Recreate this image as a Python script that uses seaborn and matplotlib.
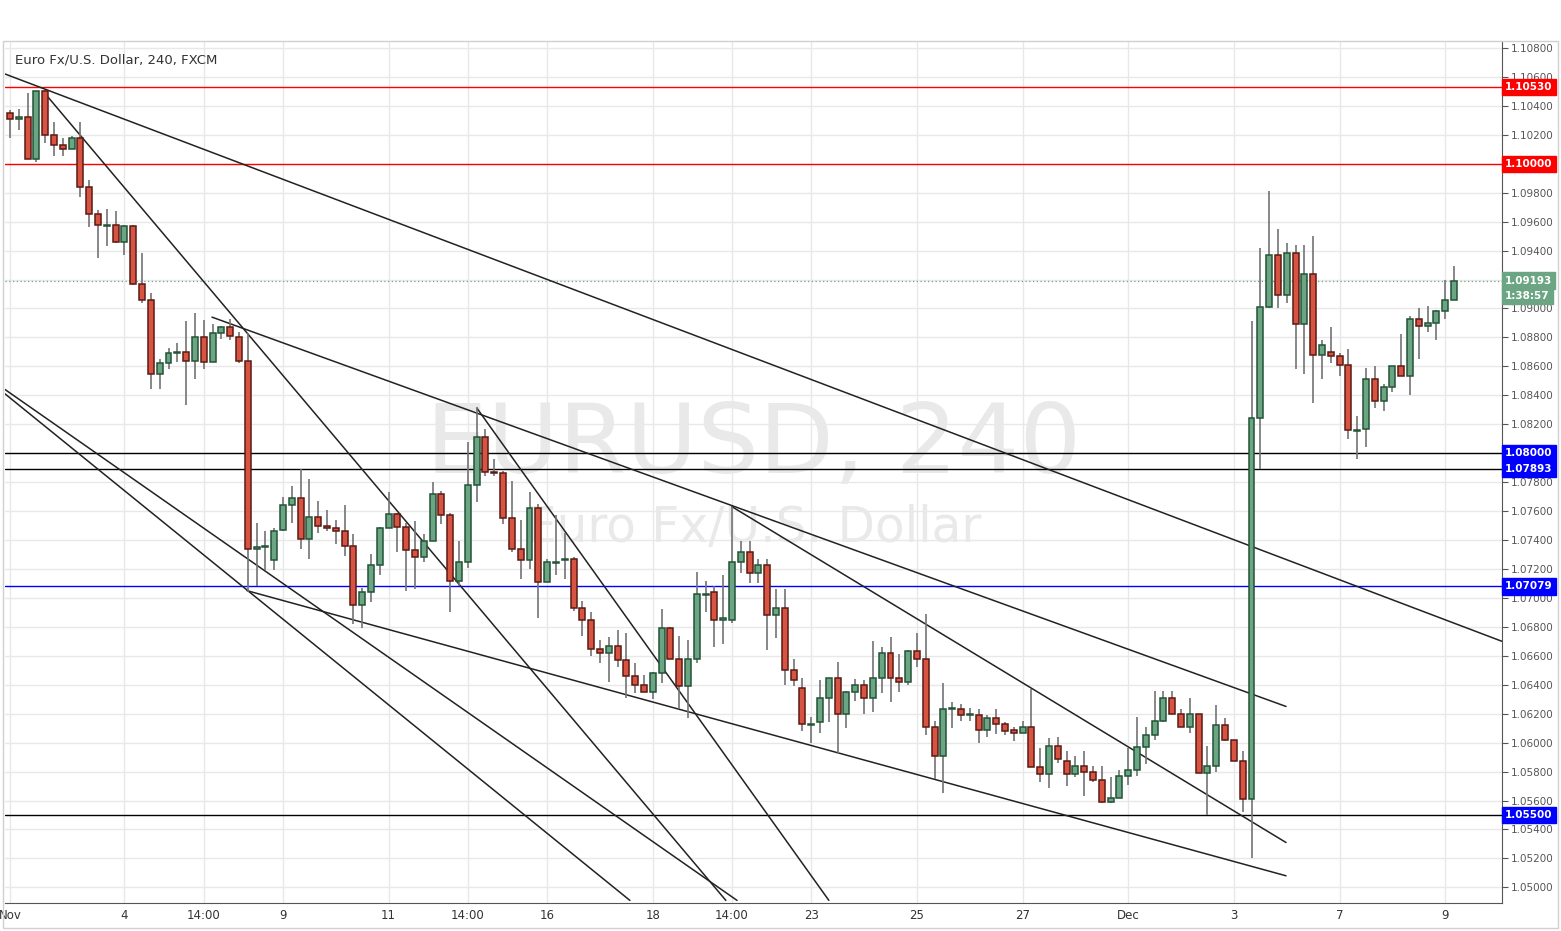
import numpy as np
import pandas as pd
import matplotlib
matplotlib.use("Agg")
import matplotlib.pyplot as plt
import matplotlib.transforms as mtrans
import seaborn as sns

sns.set_style("white")
plt.rcParams['font.family'] = ['DejaVu Sans']

opens = [1.1035,1.1031,1.1032,1.1003,1.1050,1.1020,1.1013,1.1010,1.1018,1.0984,
1.0965,1.0957,1.0958,1.0946,1.0957,1.0917,1.0906,1.0855,1.0862,1.0869,
1.0870,1.0864,1.0880,1.0863,1.0883,1.0887,1.0880,1.0864,1.0734,1.0735,
1.0726,1.0747,1.0764,1.0769,1.0741,1.0756,1.0750,1.0748,1.0746,1.0736,
1.0695,1.0704,1.0723,1.0748,1.0758,1.0749,1.0733,1.0728,1.0739,1.0772,
1.0757,1.0712,1.0725,1.0778,1.0811,1.0787,1.0786,1.0755,1.0734,1.0726,
1.0762,1.0711,1.0724,1.0726,1.0727,1.0693,1.0685,1.0665,1.0662,1.0667,
1.0657,1.0646,1.0640,1.0635,1.0648,1.0679,1.0658,1.0639,1.0658,1.0702,
1.0704,1.0685,1.0685,1.0725,1.0732,1.0717,1.0723,1.0688,1.0693,1.0650,
1.0638,1.0612,1.0614,1.0631,1.0645,1.0620,1.0635,1.0640,1.0631,1.0645,
1.0662,1.0645,1.0642,1.0663,1.0658,1.0611,1.0591,1.0623,1.0623,1.0619,
1.0619,1.0609,1.0617,1.0613,1.0609,1.0607,1.0611,1.0583,1.0578,1.0598,
1.0587,1.0578,1.0584,1.0580,1.0574,1.0559,1.0562,1.0577,1.0581,1.0597,
1.0605,1.0615,1.0631,1.0620,1.0611,1.0620,1.0579,1.0584,1.0612,1.0602,
1.0587,1.0561,1.0824,1.0901,1.0937,1.0909,1.0938,1.0889,1.0924,1.0868,
1.0870,1.0867,1.0861,1.0815,1.0817,1.0851,1.0836,1.0846,1.0860,1.0853,
1.0893,1.0888,1.0890,1.0898,1.0906]
highs = [1.1037,1.1038,1.1049,1.1050,1.1051,1.1029,1.1018,1.1019,1.1029,1.0989,
1.0968,1.0969,1.0967,1.0958,1.0958,1.0938,1.0911,1.0865,1.0873,1.0876,
1.0891,1.0897,1.0892,1.0889,1.0888,1.0893,1.0884,1.0883,1.0752,1.0746,
1.0748,1.0770,1.0777,1.0789,1.0782,1.0767,1.0761,1.0754,1.0764,1.0744,
1.0707,1.0730,1.0749,1.0773,1.0759,1.0752,1.0753,1.0744,1.0780,1.0774,
1.0759,1.0739,1.0808,1.0832,1.0817,1.0796,1.0788,1.0781,1.0754,1.0773,
1.0765,1.0727,1.0757,1.0745,1.0728,1.0698,1.0690,1.0671,1.0673,1.0678,
1.0676,1.0655,1.0647,1.0649,1.0692,1.0680,1.0674,1.0671,1.0718,1.0712,
1.0708,1.0716,1.0763,1.0739,1.0739,1.0727,1.0727,1.0706,1.0706,1.0658,
1.0645,1.0618,1.0643,1.0645,1.0656,1.0636,1.0644,1.0643,1.0670,1.0666,
1.0673,1.0661,1.0664,1.0676,1.0689,1.0615,1.0641,1.0628,1.0627,1.0624,
1.0623,1.0619,1.0623,1.0614,1.0611,1.0615,1.0637,1.0596,1.0603,1.0604,
1.0594,1.0591,1.0594,1.0584,1.0584,1.0576,1.0581,1.0596,1.0618,1.0611,
1.0636,1.0636,1.0636,1.0623,1.0631,1.0620,1.0598,1.0626,1.0617,1.0602,
1.0594,1.0891,1.0942,1.0981,1.0955,1.0945,1.0944,1.0944,1.0950,1.0878,
1.0887,1.0869,1.0872,1.0826,1.0859,1.0860,1.0848,1.0860,1.0882,1.0895,
1.0900,1.0902,1.0899,1.0920,1.0929]
lows = [1.1018,1.1023,1.1003,1.1001,1.1014,1.1005,1.1005,1.1010,1.0977,1.0956,
1.0935,1.0943,1.0945,1.0937,1.0916,1.0904,1.0844,1.0844,1.0858,1.0863,
1.0833,1.0851,1.0858,1.0863,1.0879,1.0878,1.0862,1.0704,1.0708,1.0719,
1.0719,1.0746,1.0752,1.0734,1.0727,1.0745,1.0746,1.0737,1.0729,1.0682,
1.0679,1.0697,1.0716,1.0748,1.0732,1.0705,1.0706,1.0725,1.0739,1.0751,
1.0690,1.0708,1.0721,1.0766,1.0784,1.0784,1.0751,1.0732,1.0713,1.0720,
1.0686,1.0711,1.0716,1.0713,1.0691,1.0674,1.0660,1.0655,1.0642,1.0652,
1.0631,1.0634,1.0635,1.0630,1.0641,1.0658,1.0623,1.0617,1.0655,1.0690,
1.0666,1.0668,1.0683,1.0717,1.0710,1.0710,1.0664,1.0672,1.0640,1.0639,
1.0608,1.0600,1.0607,1.0614,1.0592,1.0610,1.0629,1.0620,1.0621,1.0634,
1.0628,1.0635,1.0640,1.0652,1.0605,1.0575,1.0565,1.0610,1.0615,1.0615,
1.0600,1.0604,1.0606,1.0605,1.0601,1.0607,1.0583,1.0573,1.0569,1.0586,
1.0570,1.0576,1.0563,1.0573,1.0558,1.0558,1.0562,1.0571,1.0577,1.0585,
1.0602,1.0614,1.0620,1.0611,1.0607,1.0579,1.0550,1.0580,1.0601,1.0587,
1.0552,1.0520,1.0789,1.0900,1.0900,1.0904,1.0858,1.0855,1.0835,1.0851,
1.0862,1.0853,1.0810,1.0796,1.0804,1.0831,1.0829,1.0842,1.0853,1.0840,
1.0865,1.0884,1.0878,1.0893,1.0906]
closes = [1.1031,1.1032,1.1003,1.1050,1.1020,1.1013,1.1010,1.1018,1.0984,1.0965,
1.0958,1.0958,1.0946,1.0957,1.0917,1.0906,1.0855,1.0862,1.0869,1.0870,
1.0864,1.0880,1.0863,1.0883,1.0887,1.0881,1.0864,1.0734,1.0735,1.0736,
1.0746,1.0764,1.0769,1.0741,1.0756,1.0750,1.0748,1.0746,1.0736,1.0695,
1.0704,1.0723,1.0748,1.0758,1.0749,1.0733,1.0728,1.0739,1.0772,1.0757,
1.0712,1.0725,1.0778,1.0811,1.0787,1.0786,1.0755,1.0734,1.0726,1.0762,
1.0711,1.0725,1.0725,1.0727,1.0693,1.0685,1.0665,1.0662,1.0667,1.0657,
1.0646,1.0640,1.0635,1.0648,1.0679,1.0658,1.0639,1.0658,1.0703,1.0703,
1.0685,1.0686,1.0725,1.0732,1.0717,1.0723,1.0688,1.0693,1.0650,1.0643,
1.0613,1.0613,1.0631,1.0645,1.0620,1.0635,1.0640,1.0631,1.0645,1.0662,
1.0645,1.0642,1.0663,1.0658,1.0611,1.0591,1.0623,1.0624,1.0619,1.0620,
1.0609,1.0617,1.0613,1.0608,1.0607,1.0611,1.0583,1.0578,1.0598,1.0589,
1.0578,1.0584,1.0580,1.0574,1.0559,1.0562,1.0577,1.0581,1.0597,1.0605,
1.0615,1.0631,1.0620,1.0611,1.0620,1.0579,1.0584,1.0612,1.0602,1.0587,
1.0561,1.0824,1.0901,1.0937,1.0909,1.0938,1.0889,1.0924,1.0868,1.0875,
1.0867,1.0861,1.0816,1.0816,1.0851,1.0836,1.0846,1.0860,1.0853,1.0893,
1.0888,1.0890,1.0898,1.0906,1.0919]

tick_pos = [0, 13, 22, 31, 43, 52, 61, 73, 82, 91, 103, 115, 127, 139, 151, 163]
tick_labels = ["Nov", "4", "14:00", "9", "11", "14:00", "16", "18", "14:00",
               "23", "25", "27", "Dec", "3", "7", "9"]

# trend lines: (bar index, price) endpoints
trend_x0 = [-0.57, 4.32, 22.94, 53.04, -0.57, -0.57, 82.0, 26.92]
trend_y0 = [1.1062, 1.1046, 1.0894, 1.0831, 1.0844, 1.0841, 1.0763, 1.0705]
trend_x1 = [169.45, 81.3, 144.92, 93.0, 82.57, 70.4, 144.92, 144.92]
trend_y1 = [1.0670, 1.0491, 1.0625, 1.0491, 1.0491, 1.0491, 1.0531, 1.0508]

h_red = [1.1053, 1.1000]
h_black = [1.0800, 1.07893, 1.0550]
h_blue = [1.07079]
current = 1.09193
hidden_ticks = [1.100, 1.092, 1.080]

df = pd.DataFrame({"idx": np.arange(len(opens)), "open": opens, "high": highs,
                   "low": lows, "close": closes})
df["up"] = df["close"] >= df["open"]

W, H = 1561, 931
fig = plt.figure(figsize=(W/100, H/100), dpi=100)
fig.patch.set_facecolor("white")
ax = fig.add_axes([5/W, (H-903)/H, 1497/W, (903-42)/H])

ymin, ymax = 1.04892, 1.10841
ax.set_xlim(-0.57, 169.45)
ax.set_ylim(ymin, ymax)

grid_c = "#e8e8e8"
yt = np.round(np.arange(1.050, 1.1081, 0.002), 3)
for y in yt:
    ax.axhline(y, color=grid_c, lw=1, zorder=0)
for x in tick_pos:
    ax.axvline(x, color=grid_c, lw=1, zorder=0)

ax.text(0.5, 0.53, "EURUSD, 240", transform=ax.transAxes, ha="center", va="center",
        fontsize=70, color="#e9e9e9", zorder=0.5)
ax.text(0.5, 0.435, "Euro Fx/U.S. Dollar", transform=ax.transAxes, ha="center",
        va="center", fontsize=35, color="#e9e9e9", zorder=0.5)

for y in h_red:
    ax.axhline(y, color="#ff0000", lw=1, zorder=1)
for y in h_black:
    ax.axhline(y, color="#000000", lw=1, zorder=1)
for y in h_blue:
    ax.axhline(y, color="#0000ff", lw=1, zorder=1)
ax.axhline(current, color="#6ba583", lw=0.9, ls=(0, (1, 2)), zorder=1)

for i in range(len(trend_x0)):
    seg = pd.DataFrame({"x": [trend_x0[i], trend_x1[i]], "y": [trend_y0[i], trend_y1[i]]})
    sns.lineplot(data=seg, x="x", y="y", ax=ax, color="#222222", lw=1.1,
                 estimator=None, sort=False, zorder=2)

green_f, green_e = "#6ba583", "#225437"
red_f, red_e = "#d75442", "#5b1a13"
ax.vlines(df["idx"], df["low"], df["high"], color="#737375", lw=1.2, zorder=3)
body_lo = np.minimum(df["open"], df["close"])
body_h = np.maximum(np.abs(df["close"] - df["open"]), 0.00008)
fc = np.where(df["up"], green_f, red_f)
ec = np.where(df["up"], green_e, red_e)
ax.bar(df["idx"], body_h, bottom=body_lo, width=0.68, color=fc, edgecolor=ec,
       linewidth=1.1, zorder=4)

ax.set_xlabel("")
ax.set_ylabel("")
ax.set_xticks(tick_pos)
ax.set_xticklabels(tick_labels, fontsize=8.5, color="#333333")
ax.yaxis.tick_right()
ax.set_yticks(yt)
ax.set_yticklabels(["" if any(abs(v - h) < 1e-6 for h in hidden_ticks) else f"{v:.5f}"
                    for v in yt], fontsize=7.5, color="#555555")
ax.tick_params(axis="y", length=4, pad=2, color="#555555")
ax.tick_params(axis="x", length=0, pad=4)
for s in ax.spines.values():
    s.set_color("#555555")
    s.set_linewidth(0.8)
ax.spines["left"].set_visible(False)
ax.spines["top"].set_visible(False)

tr = mtrans.blended_transform_factory(ax.transAxes, ax.transData)
def tag(y, text, bg, fg="white"):
    ax.text(1.002, y, text, transform=tr, ha="left", va="center", fontsize=7.5,
            color=fg, fontweight="bold",
            bbox=dict(boxstyle="square,pad=0.3", fc=bg, ec=bg), zorder=10, clip_on=False)

tag(1.1053, "1.10530", "#ff0000")
tag(1.1000, "1.10000", "#ff0000")
tag(1.0800, "1.08000", "#0000ff")
tag(1.07893, "1.07893", "#0000ff")
tag(1.07079, "1.07079", "#0000ff")
tag(1.0550, "1.05500", "#0000ff")
tag(current, "1.09193", "#6ba583")
tag(current - 0.00108, "1:38:57", "#6ba583")

fig.text(15/W, 1 - 60/H, "Euro Fx/U.S. Dollar, 240, FXCM", fontsize=9.5,
         color="#333333", va="center")
fig.add_artist(plt.Rectangle((3/W, 3/H), 1555/W, (H-44)/H, transform=fig.transFigure,
                             fill=False, ec="#d0d0d0", lw=1))

fig.savefig("out.png", dpi=100, facecolor="white")
